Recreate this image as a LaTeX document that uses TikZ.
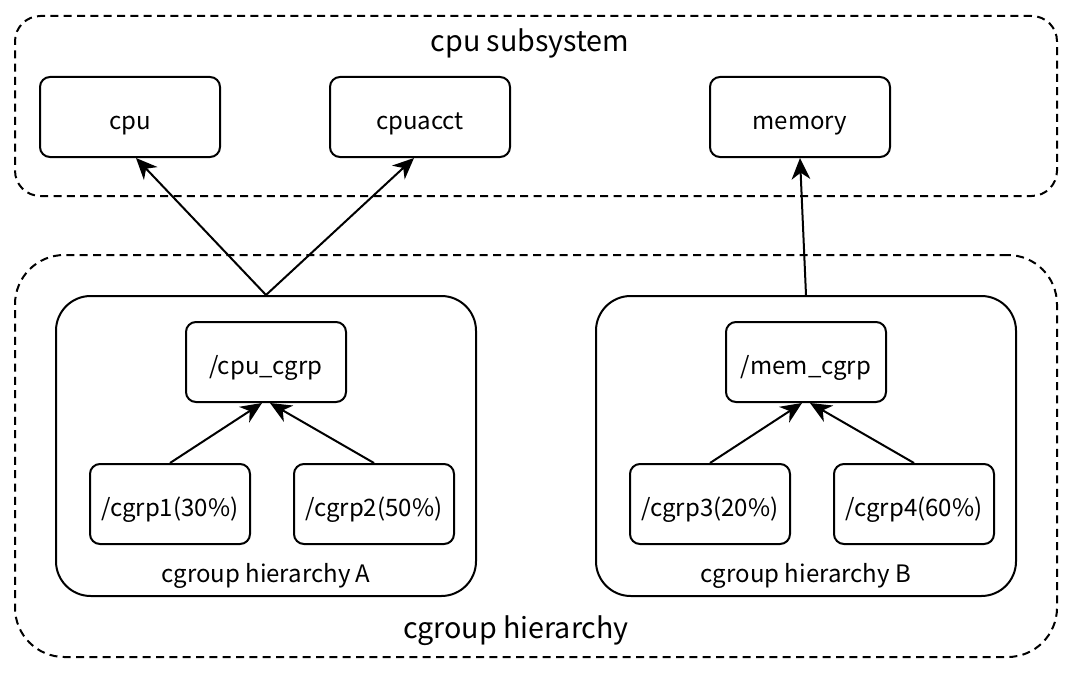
\documentclass[tikz,border=0pt]{standalone}
\usepackage{fontspec}
\setmainfont{Noto Sans CJK SC}
\usepackage{tikz}
\usetikzlibrary{positioning,arrows.meta,calc}

\begin{document}
\begin{tikzpicture}
	[x=0.75pt,y=-0.75pt,line width=1.5pt,
	bx/.style={draw,rounded corners=7.5pt,minimum width=135pt,minimum height=60pt,inner sep=0pt,text height=18.5pt,text depth=0pt,font=\fontsize{18}{22}\selectfont},
	sbx/.style={bx,minimum width=120pt},
	grp/.style={draw,rounded corners=26pt,minimum width=315pt,minimum height=225pt},
	zone/.style={draw,dash pattern=on 6pt off 4pt,minimum width=781.5pt},
	ttl/.style={anchor=base,inner sep=0pt,font=\fontsize{21.5}{26}\selectfont},
	gl/.style={anchor=base,inner sep=0pt,font=\fontsize{18}{22}\selectfont},
	arr/.style={-{Stealth[length=16pt,width=14pt,inset=5pt]}}]
	\useasboundingbox (0,0) rectangle (1074,674);
	%%%%% SUBSYSTEMS
	\node[zone,rounded corners=19pt,minimum height=135pt] (subsys) at (536,106) {};
	\node[ttl] (subsysl) at (530,52) {cpu subsystem};
	\node[bx] (cpu) at (130,117) {cpu};
	\node[bx] (cpuacct) at (420,117) {cpuacct};
	\node[bx] (memory) at (800,117) {memory};
	%%%%% HIERARCHIES
	\node[zone,rounded corners=37pt,minimum height=301.5pt] (hier) at (536,456) {};
	\node[ttl] (hierl) at (516,638) {cgroup hierarchy};
	\node[grp] (hierA) at (266,446) {};
	\node[gl] (hierAl) at (266,582) {cgroup hierarchy A};
	\node[sbx] (cpucg) at (266,362) {/cpu\_cgrp};
	\node[sbx] (cg1) at (170,504) {/cgrp1(30\%)};
	\node[sbx] (cg2) at (374,504) {/cgrp2(50\%)};
	\node[grp] (hierB) at (806,446) {};
	\node[gl] (hierBl) at (806,582) {cgroup hierarchy B};
	\node[sbx] (memcg) at (806,362) {/mem\_cgrp};
	\node[sbx] (cg3) at (710,504) {/cgrp3(20\%)};
	\node[sbx] (cg4) at (914,504) {/cgrp4(60\%)};
	%%%%% ARROWS
	\draw[arr] (hierA.north) -- ([xshift=4.5pt]cpu.south);
	\draw[arr] (hierA.north) -- ([xshift=-4.5pt]cpuacct.south);
	\draw[arr] (hierB.north) -- (memory.south);
	\draw[arr] (cg1.north) -- ([xshift=-3pt]cpucg.south);
	\draw[arr] (cg2.north) -- ([xshift=3pt]cpucg.south);
	\draw[arr] (cg3.north) -- ([xshift=-3pt]memcg.south);
	\draw[arr] (cg4.north) -- ([xshift=3pt]memcg.south);
\end{tikzpicture}
\end{document}
